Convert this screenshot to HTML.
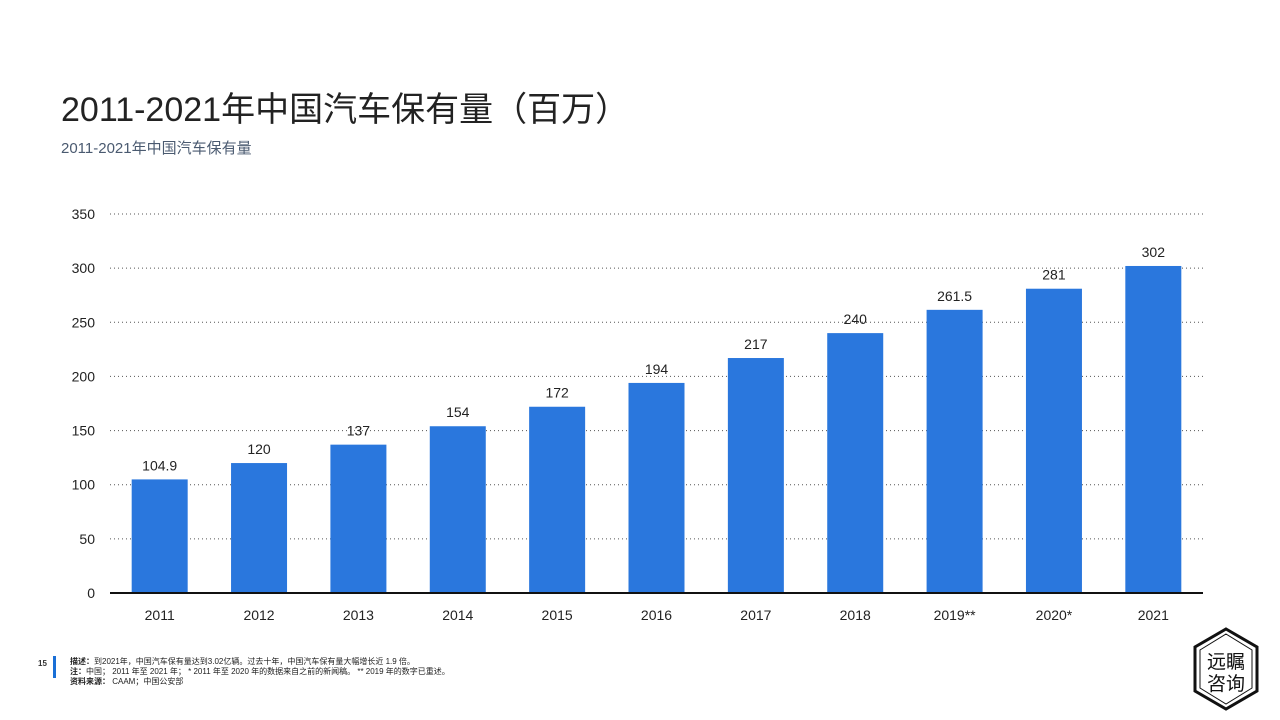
<!DOCTYPE html>
<html><head><meta charset="utf-8"><style>
body{margin:0;width:1280px;height:720px;background:#fff;overflow:hidden;position:relative;font-family:"Liberation Sans","Noto Sans CJK SC",sans-serif}
.t{position:absolute;white-space:nowrap}
</style></head><body>
<div class="t" style="left:61px;top:82px;font-size:34px;color:#222">2011-2021年中国汽车保有量（百万）</div>
<div class="t" style="left:61px;top:137px;font-size:15px;color:#4a5a70">2011-2021年中国汽车保有量</div>
<svg id="c" width="1280" height="720" style="position:absolute;left:0;top:0"></svg>
<div style="position:absolute;left:53px;top:656px;width:3px;height:22px;background:#1a6fd6"></div>
<div class="t" style="left:38px;top:659px;font-size:8px;font-weight:bold;color:#333">15</div>
<div class="t" style="left:70px;top:657px;font-size:8px;line-height:10px;color:#222">
<b>描述：</b>到2021年，中国汽车保有量达到3.02亿辆。过去十年，中国汽车保有量大幅增长近 1.9 倍。<br>
<b>注：</b>中国； 2011 年至 2021 年； * 2011 年至 2020 年的数据来自之前的新闻稿。 ** 2019 年的数字已重述。<br>
<b>资料来源：</b> CAAM；中国公安部</div>
<svg width="70" height="90" style="position:absolute;left:1191px;top:625px">
<polygon points="35,4 66,22 66,66 35,84 4,66 4,22" fill="none" stroke="#111" stroke-width="3"/>
<polygon points="35,9 61,25 61,63 35,79 9,63 9,25" fill="none" stroke="#111" stroke-width="1"/>
<text x="35" y="43" text-anchor="middle" font-size="19" font-family="Noto Sans CJK SC,sans-serif" fill="#111">远瞩</text>
<text x="35" y="65" text-anchor="middle" font-size="19" font-family="Noto Sans CJK SC,sans-serif" fill="#111">咨询</text>
</svg>
<script>
const categories=["2011","2012","2013","2014","2015","2016","2017","2018","2019**","2020*","2021"];
const values=[104.9,120,137,154,172,194,217,240,261.5,281,302];
const valueLabels=["104.9","120","137","154","172","194","217","240","261.5","281","302"];
const yTicks=[0,50,100,150,200,250,300,350];
const svg=document.getElementById('c');const NS='http://www.w3.org/2000/svg';
const x0=110,x1=1203,y0=593,yTop=214,yMax=350;
const y=v=>y0-(v/yMax)*(y0-yTop);
const bw=(x1-x0)/categories.length;
const cx=i=>x0+(i+0.5)*bw;
function mk(t,a){const e=document.createElementNS(NS,t);for(const k in a)e.setAttribute(k,a[k]);svg.appendChild(e);return e;}
yTicks.forEach(v=>{
 if(v>0){const l=mk('line',{x1:x0,x2:x1,y1:y(v),y2:y(v),stroke:'#555','stroke-width':1,'stroke-dasharray':'1,3'});
 
 }
 const t=mk('text',{x:95,y:y(v)+5,'text-anchor':'end','font-size':14,fill:'#222'});t.textContent=v;
 
 
});
categories.forEach((c,i)=>{
 const r=mk('rect',{x:cx(i)-28,y:y(values[i]),width:56,height:y0-y(values[i]),fill:'#2a77dd'});
 
 
 const v=mk('text',{x:cx(i),y:y(values[i])-9,'text-anchor':'middle','font-size':14,fill:'#222'});v.textContent=valueLabels[i];
 
 
 const t=mk('text',{x:cx(i),y:620,'text-anchor':'middle','font-size':14,fill:'#222'});t.textContent=c;
 
 
});
const ax=mk('line',{x1:x0,x2:x1,y1:y0,y2:y0,stroke:'#111','stroke-width':2});


</script>
</body></html>
